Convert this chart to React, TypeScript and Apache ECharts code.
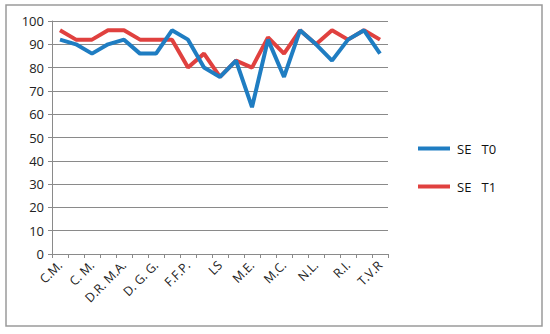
import React, { useEffect, useRef } from "react";
import * as echarts from "echarts";

const categories = [
  "C.M.", "C.A.", "C. M.", "C.D.", "D.R. M.A.", "D.B.", "D. G. G.", "E.M.", "F.F.P.", "G.L.",
  "LS", "L.M.", "M.E.", "M.B.", "M.C.", "M.R.", "N.L.", "P.S.", "R.I.", "S.T.", "T.V.R",
];
const seT0 = [92, 90, 86, 90, 92, 86, 86, 96, 92, 80, 76, 83, 63, 92, 76, 96, 90, 83, 92, 96, 86];
const seT1 = [96, 92, 92, 96, 96, 92, 92, 92, 80, 86, 76, 83, 80, 93, 86, 96, 90, 96, 92, 96, 92];
const yTicks = { min: 0, max: 100, interval: 10 };

const FONT = "'Open Sans', 'Noto Sans', sans-serif";

export default function App() {
  const ref = useRef<HTMLDivElement>(null);
  useEffect(() => {
    document.body.style.margin = "0";
    const chart = echarts.init(ref.current!, null, { renderer: "svg" });
    chart.setOption({
      animation: false,
      backgroundColor: "#fff",
      textStyle: { fontFamily: FONT },
      graphic: [
        {
          type: "rect",
          shape: { x: 6, y: 5, width: 536, height: 321 },
          style: { fill: "none", stroke: "#9a9a9a", lineWidth: 1.5 },
          silent: true,
        },
      ],
      grid: { left: 52, right: 162, top: 21, bottom: 80 },
      legend: [
        {
          data: ["SE   T0"],
          left: 413,
          top: 137,
          orient: "vertical",
          icon: "rect",
          itemWidth: 32,
          itemHeight: 4,
          itemGap: 0,
          textStyle: { fontFamily: FONT, fontSize: 13, color: "#111", padding: [0, 0, 10, 2] },
        },
        {
          data: ["SE   T1"],
          left: 413,
          top: 175,
          orient: "vertical",
          icon: "rect",
          itemWidth: 32,
          itemHeight: 4,
          itemGap: 0,
          textStyle: { fontFamily: FONT, fontSize: 13, color: "#111", padding: [10, 0, 0, 2] },
        },
      ],
      xAxis: {
        type: "category",
        data: categories,
        boundaryGap: true,
        axisLine: { lineStyle: { color: "#8a8a8a", width: 1 } },
        axisTick: { show: true, alignWithLabel: false, interval: 0, length: 4, lineStyle: { color: "#8a8a8a" } },
        axisLabel: { interval: 1, rotate: 45, fontSize: 12.5, color: "#222", fontFamily: FONT, margin: 9 },
        splitLine: { show: false },
      },
      yAxis: {
        type: "value",
        min: yTicks.min,
        max: yTicks.max,
        interval: yTicks.interval,
        axisLine: { show: true, lineStyle: { color: "#8a8a8a", width: 1 } },
        axisTick: { show: true, length: 4, lineStyle: { color: "#8a8a8a" } },
        axisLabel: { fontSize: 13, color: "#222", fontFamily: FONT, margin: 8 },
        splitLine: { lineStyle: { color: "#8a8a8a", width: 1 } },
      },
      series: [
        {
          name: "SE   T0",
          type: "line",
          data: seT0,
          symbol: "none",
          color: "#1f7dc2",
          lineStyle: { width: 4, color: "#1f7dc2" },
          z: 3,
        },
        {
          name: "SE   T1",
          type: "line",
          data: seT1,
          symbol: "none",
          color: "#e0413f",
          lineStyle: { width: 4, color: "#e0413f" },
          z: 2,
        },
      ],
    });
    return () => chart.dispose();
  }, []);
  return <div ref={ref} style={{ width: 550, height: 334 }} />;
}
